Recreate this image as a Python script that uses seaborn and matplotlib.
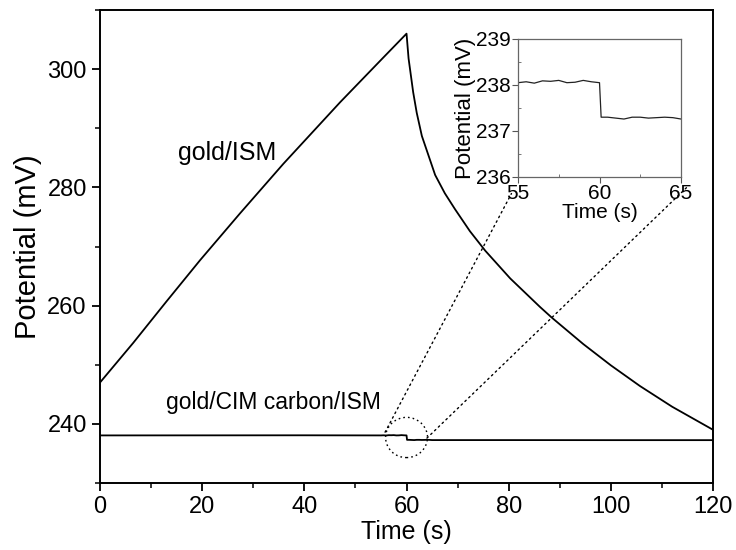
import numpy as np
import pandas as pd
import matplotlib
matplotlib.use("Agg")
import matplotlib.pyplot as plt
import seaborn as sns
from matplotlib.patches import Ellipse, ConnectionPatch
from matplotlib.ticker import MultipleLocator

# ---- data ----
gold_time = [0.0, 6.5, 13.0, 19.6, 27.4, 35.9, 47.0, 55.5, 60.0,
             60.4, 61.3, 62.0, 63.0, 65.6, 67.5, 69.5, 72.4, 75.4, 80.3, 86.1, 88.4,
             94.6, 100.0, 105.7, 112.0, 120.0]
gold_pot = [247.0, 253.7, 260.7, 267.7, 275.6, 284.0, 294.4, 302.0, 306.0,
            301.8, 296.1, 292.6, 288.7, 282.1, 279.0, 276.3, 272.6, 269.3, 264.6, 259.8,
            258.0, 253.5, 249.9, 246.4, 242.9, 239.0]

cim_time = [0, 20, 40, 55.0, 55.5, 56.0, 56.5, 57.0, 57.5, 58.0, 58.5, 59.0,
            59.5, 60.0, 60.1, 60.5, 61.0, 61.5, 62.0, 62.5, 63.0, 63.5, 64.0,
            64.5, 65.0, 80, 100, 120]
cim_pot = [238.05, 238.06, 238.07, 238.05, 238.07, 238.04, 238.09, 238.08, 238.10,
           238.05, 238.06, 238.10, 238.07, 238.05, 237.30, 237.30, 237.28, 237.26,
           237.30, 237.30, 237.28, 237.29, 237.30, 237.29, 237.26, 237.26, 237.25,
           237.25]

main_xticks = [0, 20, 40, 60, 80, 100, 120]
main_yticks = [240, 260, 280, 300]
inset_xticks = [55, 60, 65]
inset_yticks = [236, 237, 238, 239]

gold_df = pd.DataFrame({"Time": gold_time, "Potential": gold_pot})
cim_df = pd.DataFrame({"Time": cim_time, "Potential": cim_pot})

sns.set_theme(style="ticks")
plt.rcParams["font.family"] = ["Liberation Sans", "DejaVu Sans"]
plt.rcParams["text.color"] = "black"
plt.rcParams["axes.labelcolor"] = "black"

fig = plt.figure(figsize=(7.36, 5.5), dpi=100)
ax = fig.add_axes([0.1359, 0.1218, 0.8329, 0.86])

sns.lineplot(data=gold_df, x="Time", y="Potential", ax=ax, color="black",
             lw=1.3, sort=False, estimator=None)
sns.lineplot(data=cim_df, x="Time", y="Potential", ax=ax, color="black",
             lw=1.3, sort=False, estimator=None)

ax.set_xlim(0, 120)
ax.set_ylim(230, 310)
ax.set_xticks(main_xticks)
ax.set_yticks(main_yticks)
ax.xaxis.set_minor_locator(MultipleLocator(10))
ax.yaxis.set_minor_locator(MultipleLocator(10))
ax.tick_params(axis="both", which="major", direction="out", length=6, width=1.3,
               labelsize=17, color="black", labelcolor="black")
ax.tick_params(axis="both", which="minor", direction="out", length=3.5, width=1.1,
               color="black")
for s in ax.spines.values():
    s.set_linewidth(1.4)
    s.set_color("black")
ax.set_xlabel("Time (s)", fontsize=18, labelpad=1, color="black")
ax.set_ylabel("Potential (mV)", fontsize=21, labelpad=4, color="black")

ax.text(24.9, 285.9, "gold/ISM", fontsize=18, ha="center", va="center",
        color="black")
ax.text(34.0, 243.6, "gold/CIM carbon/ISM", fontsize=16.5, ha="center",
        va="center", color="black")

ell = Ellipse((60, 237.7), 8.2, 6.8, fill=False, ls=(0, (1.2, 2.2)), lw=1.0,
              edgecolor="black")
ax.add_patch(ell)

# inset
axins = fig.add_axes([0.7038, 0.6782, 0.2215, 0.2509])
sns.lineplot(data=cim_df, x="Time", y="Potential", ax=axins, color="#222222",
             lw=0.9, sort=False, estimator=None)
axins.set_xlim(55, 65)
axins.set_ylim(236, 239)
axins.set_xticks(inset_xticks)
axins.set_yticks(inset_yticks)
axins.xaxis.set_minor_locator(MultipleLocator(2.5))
axins.yaxis.set_minor_locator(MultipleLocator(0.5))
axins.tick_params(axis="both", which="major", direction="out", length=4, width=0.8,
                  labelsize=15, color="#555555", labelcolor="black", pad=1)
axins.tick_params(axis="both", which="minor", direction="in", length=2.5, width=0.7,
                  color="#777777")
for s in axins.spines.values():
    s.set_linewidth(0.9)
    s.set_color("#666666")
axins.set_xlabel("Time (s)", fontsize=15, labelpad=0, color="black")
axins.set_ylabel("Potential (mV)", fontsize=16, labelpad=0, color="black")

for xa, ya, xb, yb in [(55.8, 238.6, -0.04, -0.12), (64.0, 237.6, 1.04, -0.07)]:
    con = ConnectionPatch(xyA=(xa, ya), coordsA="data", axesA=ax,
                          xyB=(xb, yb), coordsB="axes fraction", axesB=axins,
                          ls=(0, (1.2, 2.6)), lw=1.0, color="black")
    fig.add_artist(con)

fig.savefig("out.png", dpi=100)
